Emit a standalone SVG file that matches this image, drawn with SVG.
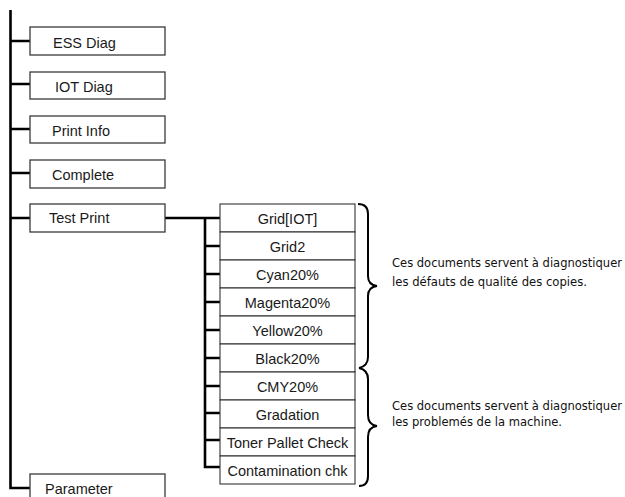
<svg xmlns="http://www.w3.org/2000/svg" width="625" height="497" viewBox="0 0 625 497">
<style>
.box{fill:#fff;stroke:#3a3a3a;stroke-width:1.3}
.cell{fill:#fff;stroke:#333;stroke-width:1.1}
.lbl{font-family:"Liberation Sans",Arial,sans-serif;font-size:14.5px;fill:#1a1a1a}
.mid{text-anchor:middle}
.con{fill:none;stroke:#000;stroke-width:2.6}
.brace{fill:none;stroke:#000;stroke-width:2}
.note{font-family:"DejaVu Sans Condensed","DejaVu Sans",sans-serif;font-size:11.5px;fill:#111}
</style>
<rect width="625" height="497" fill="#fff"/>
<g id="connectors">
<path class="con" d="M10.5,10 V488 H30"/>
<path class="con" d="M10.5,41 H30 M10.5,84 H30 M10.5,129 H30 M10.5,173 H30 M10.5,218 H30"/>
<path class="con" d="M165,218 H220 M205,218 V467 H220"/>
<path class="con" d="M205,246 H220 M205,274 H220 M205,302 H220 M205,330 H220 M205,358 H220 M205,386 H220 M205,413 H220 M205,440 H220"/>
</g>
<g id="node-ess"><rect class="box" x="30" y="27" width="135" height="28"/><text class="lbl" x="53" y="48">ESS Diag</text></g>
<g id="node-iot"><rect class="box" x="30" y="72" width="135" height="27"/><text class="lbl" x="55" y="92">IOT Diag</text></g>
<g id="node-printinfo"><rect class="box" x="30" y="116" width="135" height="27"/><text class="lbl" x="52" y="136">Print Info</text></g>
<g id="node-complete"><rect class="box" x="30" y="160" width="135" height="28"/><text class="lbl" x="52" y="180">Complete</text></g>
<g id="node-testprint"><rect class="box" x="30" y="204" width="135" height="28"/><text class="lbl" x="49" y="223">Test Print</text></g>
<g id="node-parameter"><rect class="box" x="30" y="474" width="135" height="30"/><text class="lbl" x="45" y="494">Parameter</text></g>
<g id="node-grid-iot"><rect class="cell" x="220" y="204" width="135" height="28"/><text class="lbl mid" x="287.5" y="224">Grid[IOT]</text></g>
<g id="node-grid2"><rect class="cell" x="220" y="232" width="135" height="28"/><text class="lbl mid" x="287.5" y="252">Grid2</text></g>
<g id="node-cyan"><rect class="cell" x="220" y="260" width="135" height="28"/><text class="lbl mid" x="287.5" y="280">Cyan20%</text></g>
<g id="node-magenta"><rect class="cell" x="220" y="288" width="135" height="28"/><text class="lbl mid" x="287.5" y="308">Magenta20%</text></g>
<g id="node-yellow"><rect class="cell" x="220" y="316" width="135" height="28"/><text class="lbl mid" x="287.5" y="336">Yellow20%</text></g>
<g id="node-black"><rect class="cell" x="220" y="344" width="135" height="28"/><text class="lbl mid" x="287.5" y="364">Black20%</text></g>
<g id="node-cmy"><rect class="cell" x="220" y="372" width="135" height="28"/><text class="lbl mid" x="287.5" y="392">CMY20%</text></g>
<g id="node-gradation"><rect class="cell" x="220" y="400" width="135" height="28"/><text class="lbl mid" x="287.5" y="420">Gradation</text></g>
<g id="node-toner"><rect class="cell" x="220" y="428" width="135" height="28"/><text class="lbl mid" x="287.5" y="448">Toner Pallet Check</text></g>
<g id="node-contamination"><rect class="cell" x="220" y="456" width="135" height="28"/><text class="lbl mid" x="287.5" y="476">Contamination chk</text></g>
<g id="brace-quality">
<path class="brace" d="M358,204 Q368,204 368,214 L368,276 Q368,285 377,286 Q368,287 368,296 L368,357 Q368,366 359,368"/>
<text class="note" x="392" y="267" textLength="230" lengthAdjust="spacingAndGlyphs">Ces documents servent à diagnostiquer</text>
<text class="note" x="392" y="286" textLength="195" lengthAdjust="spacingAndGlyphs">les défauts de qualité des copies.</text>
</g>
<g id="brace-machine">
<path class="brace" d="M359,368 Q368,370 368,379 L368,415 Q368,425 377,426 Q368,427 368,437 L368,476 Q368,486 359,486"/>
<text class="note" x="392" y="410" textLength="230" lengthAdjust="spacingAndGlyphs">Ces documents servent à diagnostiquer</text>
<text class="note" x="392" y="426" textLength="170" lengthAdjust="spacingAndGlyphs">les problemés de la machine.</text>
</g>
</svg>
